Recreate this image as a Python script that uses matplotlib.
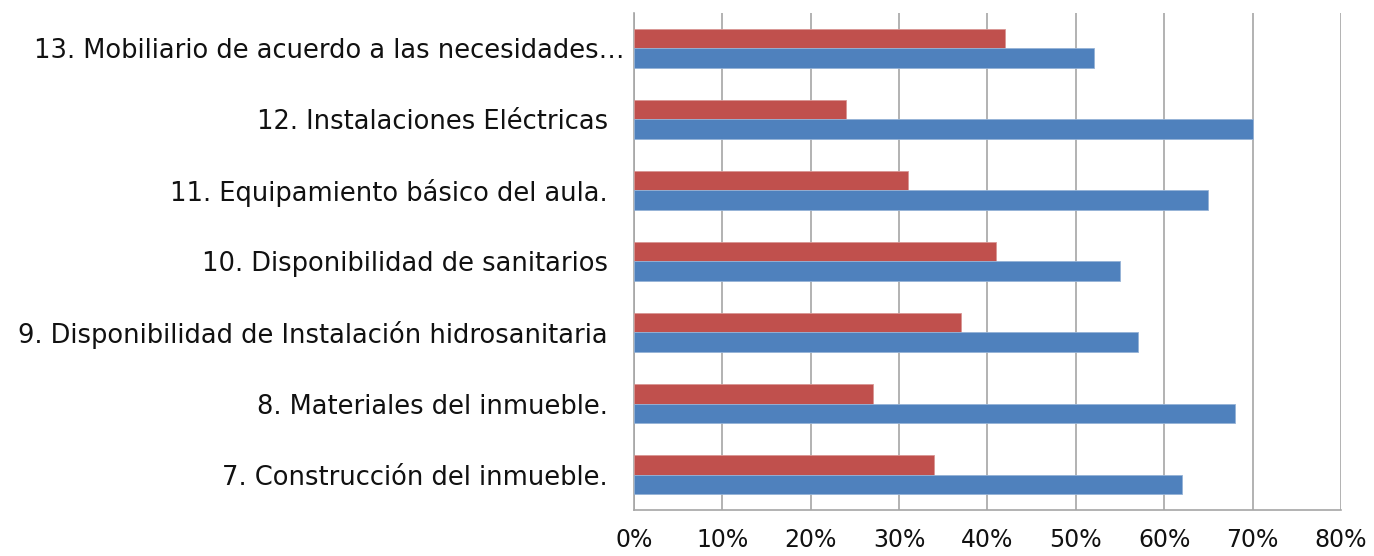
import numpy as np
import matplotlib
matplotlib.use('Agg')
import matplotlib.pyplot as plt
from matplotlib.ticker import FuncFormatter

# categories listed bottom to top
categories = ['7. Construcción del inmueble.',
              '8. Materiales del inmueble.',
              '9. Disponibilidad de Instalación hidrosanitaria',
              '10. Disponibilidad de sanitarios',
              '11. Equipamiento básico del aula.',
              '12. Instalaciones Eléctricas',
              '13. Mobiliario de acuerdo a las necesidades…']
red_values = [0.34, 0.27, 0.37, 0.41, 0.31, 0.24, 0.42]
blue_values = [0.62, 0.68, 0.57, 0.55, 0.65, 0.70, 0.52]
x_ticks = [0.0, 0.1, 0.2, 0.3, 0.4, 0.5, 0.6, 0.7, 0.8]

plt.rcParams['font.family'] = ['DejaVu Sans']

fig = plt.figure(figsize=(13.74, 5.56), dpi=100)
ax = fig.add_axes([0.4614, 0.0827, 0.5146, 0.894])

y = np.arange(len(categories))
h = 0.28
ax.barh(y + h / 2, red_values, height=h, color='#C0504D', edgecolor='#D99694',
        linewidth=0.6, zorder=3)
ax.barh(y - h / 2, blue_values, height=h, color='#4F81BD', edgecolor='#95B3D7',
        linewidth=0.6, zorder=3)

ax.set_xlim(0, 0.8)
ax.set_ylim(-0.5, len(categories) - 0.5)
ax.set_xticks(x_ticks)
ax.xaxis.set_major_formatter(FuncFormatter(lambda v, p: '{:.0f}%'.format(v * 100)))
ax.set_yticks(y)
# pad the shorter labels so their right edge sits a bit left, like the original
labels = [c if c.endswith('…') else c + '  ' for c in categories]
ax.set_yticklabels(labels)

ax.grid(axis='x', color='#A6A6A6', linewidth=1.2, zorder=0)
for s in ['top', 'right']:
    ax.spines[s].set_visible(False)
for s in ['left', 'bottom']:
    ax.spines[s].set_color('#A6A6A6')
    ax.spines[s].set_linewidth(1.2)

ax.tick_params(axis='x', length=0, pad=13, labelsize=17, labelcolor='#111111')
ax.tick_params(axis='y', length=0, pad=7, labelsize=18.5, labelcolor='#111111')

fig.savefig('out.png', dpi=100, facecolor='white')
